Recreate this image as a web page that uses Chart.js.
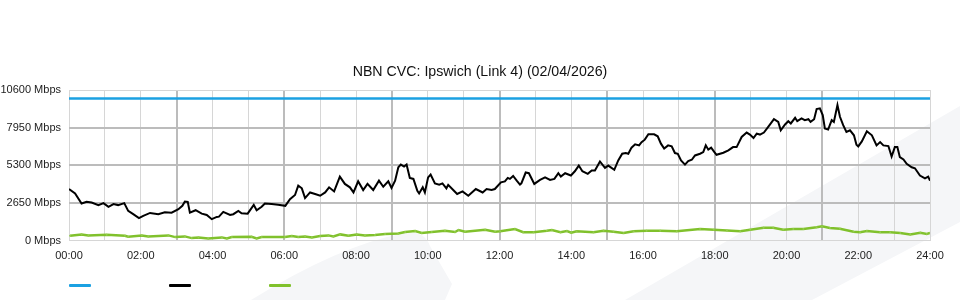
<!DOCTYPE html>
<html>
<head>
<meta charset="utf-8">
<script src="https://cdn.jsdelivr.net/npm/chart.js@4.4.1/dist/chart.umd.min.js"></script>
<style>
  html, body { margin:0; padding:0; background:#fff; }
  #wrap { position:relative; width:960px; height:300px; }
  .key { position:absolute; top:284px; width:22px; height:3px; border-radius:1px; }
</style>
</head>
<body>
<div id="wrap">
  <canvas id="c" width="960" height="300"></canvas>
  <div class="key" style="left:69px;background:#1ba1e2"></div>
  <div class="key" style="left:169px;background:#000"></div>
  <div class="key" style="left:269px;background:#80c12c"></div>
</div>
<script>
// ── data (hours since midnight, Mbps) ─────────────────────────────────────────
const TITLE = "NBN CVC: Ipswich (Link 4) (02/04/2026)";
const Y_TICKS = [0, 2650, 5300, 7950, 10600];

const capTimes = [0, 24];
const capVals  = [10000, 10000];

const dlTimes = [
  0.00,0.17,0.35,0.49,0.63,0.82,0.96,1.10,1.24,1.37,1.54,1.65,1.79,1.95,2.07,2.26,2.49,2.67,2.86,3.05,
  3.16,3.23,3.31,3.37,3.53,3.70,3.84,3.98,4.12,4.18,4.30,4.49,4.58,4.72,4.81,4.98,5.15,5.23,5.37,5.46,
  5.65,5.83,6.03,6.16,6.30,6.39,6.49,6.58,6.72,6.86,7.00,7.14,7.25,7.39,7.55,7.69,7.83,7.93,8.06,8.20,
  8.32,8.48,8.64,8.76,8.90,8.99,9.09,9.18,9.25,9.34,9.41,9.50,9.60,9.71,9.76,9.86,9.92,10.01,10.08,10.20,
  10.32,10.41,10.52,10.57,10.71,10.82,10.97,11.13,11.34,11.53,11.64,11.78,11.87,12.04,12.15,12.23,12.29,12.38,12.48,12.57,
  12.61,12.73,12.82,12.97,13.13,13.27,13.41,13.53,13.64,13.71,13.83,13.99,14.10,14.21,14.31,14.46,14.57,14.66,14.80,14.94,
  15.03,15.20,15.31,15.42,15.52,15.59,15.68,15.78,15.89,15.96,16.05,16.15,16.31,16.41,16.50,16.59,16.70,16.80,16.89,16.97,
  17.06,17.17,17.26,17.36,17.45,17.59,17.68,17.75,17.82,17.90,17.99,18.05,18.24,18.38,18.51,18.61,18.75,18.89,18.98,19.08,
  19.17,19.26,19.37,19.49,19.65,19.77,19.84,19.96,20.05,20.12,20.24,20.30,20.42,20.51,20.61,20.67,20.77,20.84,20.93,21.01,
  21.07,21.16,21.26,21.32,21.42,21.49,21.58,21.67,21.77,21.88,21.95,22.00,22.10,22.24,22.38,22.51,22.61,22.70,22.84,22.93,
  23.02,23.09,23.16,23.26,23.35,23.49,23.58,23.72,23.86,23.95,24.00
];
const dlVals = [
  3640,3330,2620,2740,2690,2510,2650,2390,2580,2510,2650,2100,1870,1590,1750,1960,1870,2010,1980,2220,
  2460,2760,2740,1980,2150,1910,1820,1520,1680,1700,2030,1820,1870,2100,1940,1910,2530,2150,2390,2620,
  2580,2530,2460,2930,3220,3880,3690,3000,3400,3290,3170,3400,3760,3470,4510,4000,3760,3400,4180,3570,
  4000,3570,4230,3800,4180,3710,4230,5170,5360,5220,5360,4420,4350,3520,3330,3760,3400,4460,4660,4040,
  3950,4040,3690,3930,3570,3290,3470,3170,3640,3400,3640,3570,3640,4110,4180,4420,4350,4560,4230,3950,
  4040,4800,4750,4000,4280,4460,4280,4350,4750,4510,4750,4590,4890,5290,4890,4710,4940,4940,5580,5130,
  5290,4990,5650,6120,6170,6120,6550,6780,6710,6940,7110,7490,7490,7350,6830,6480,6710,6640,6170,6120,
  5650,5360,5600,5700,6000,6120,6240,6710,6410,6550,6240,6050,6190,6360,6590,6590,7300,7610,7470,7230,
  7540,7470,7610,8010,8550,8360,7770,8180,8410,8250,8650,8410,8600,8480,8550,8360,8550,9260,9310,8840,
  7890,7820,8480,8360,9550,8720,8130,7650,7770,7420,6760,6640,6990,7700,7420,6710,6940,6710,6660,5930,
  6590,6590,5880,5720,5410,5170,5100,4590,4390,4510,4230
];

const ulTimes = [
  0.03,0.35,0.54,1.05,1.56,1.65,2.03,2.21,2.77,2.96,3.23,3.42,3.61,3.88,4.26,4.40,4.54,5.09,5.23,5.37,
  6.02,6.21,6.39,6.58,6.77,7.00,7.23,7.37,7.56,7.79,8.02,8.25,8.53,8.81,9.18,9.37,9.65,9.83,10.11,10.48,
  10.76,10.86,11.04,11.60,11.88,12.02,12.43,12.66,12.95,13.32,13.46,13.70,13.88,14.00,14.15,14.62,14.90,15.18,15.46,15.74,
  16.10,16.48,16.94,17.59,17.97,18.34,18.71,18.99,19.36,19.63,19.91,20.19,20.47,20.84,20.99,21.21,21.49,21.87,22.05,22.24,
  22.61,22.89,23.17,23.45,23.73,23.91,24.00
];
const ulVals = [
  350,450,380,430,350,280,380,310,380,260,310,190,240,170,240,170,260,280,170,260,
  260,330,260,310,240,330,380,310,450,350,450,380,400,480,520,620,690,550,620,710,
  620,760,640,780,640,670,830,600,600,710,760,600,690,570,670,600,710,640,550,670,
  710,710,670,830,780,730,670,780,920,920,780,830,830,950,1020,900,850,640,600,690,
  600,600,550,450,570,480,550
];

const pts = (t, v) => t.map((x, i) => ({ x, y: v[i] }));
const hh = h => String(h).padStart(2, "0") + ":00";
const major = v => v % 3 === 0 && v % 24 !== 0;

// faint background swoosh behind everything
const watermark = {
  id: "watermark",
  beforeDraw(chart) {
    const c = chart.ctx;
    c.save();
    c.fillStyle = "#f5f6f8";
    c.beginPath();
    c.moveTo(251, 300);
    c.quadraticCurveTo(340, 245, 405, 233);
    c.quadraticCurveTo(424, 230, 430, 246);
    c.lineTo(452, 284);
    c.lineTo(445, 300);
    c.closePath();
    c.fill();
    c.beginPath();
    c.moveTo(625, 300);
    c.lineTo(960, 106);
    c.lineTo(960, 222);
    c.lineTo(812, 300);
    c.closePath();
    c.fill();
    c.restore();
  }
};

Chart.defaults.font.family = "'Liberation Sans', Arial, sans-serif";
Chart.defaults.color = "#222";

new Chart(document.getElementById("c"), {
  type: "line",
  data: {
    datasets: [
      { data: pts(capTimes, capVals), borderColor: "#1ba1e2", borderWidth: 2.5, pointRadius: 0 },
      { data: pts(dlTimes, dlVals), borderColor: "#000", borderWidth: 2, pointRadius: 0 },
      { data: pts(ulTimes, ulVals), borderColor: "#80c12c", borderWidth: 2.5, pointRadius: 1, pointBackgroundColor: "#94cc4e", pointBorderWidth: 0 },
    ],
  },
  options: {
    responsive: false, animation: false,
    layout: { padding: { left: 0, right: 0, bottom: 28 } },
    plugins: {
      legend: { display: false },
      tooltip: { enabled: false },
      title: { display: true, text: TITLE, color: "#111", font: { size: 14.2, weight: "normal" }, padding: { top: 64, bottom: 9 } },
    },
    scales: {
      x: {
        type: "linear", min: 0, max: 24,
        border: { display: false },
        grid: {
          drawTicks: false,
          color: ctx => ctx.tick && major(ctx.tick.value) ? "#bcbcbc" : "#d6d6d6",
          lineWidth: ctx => ctx.tick && major(ctx.tick.value) ? 2 : 1,
        },
        ticks: {
          stepSize: 1, autoSkip: false, maxRotation: 0, padding: 9, font: { size: 11 },
          callback: v => v % 2 === 0 ? hh(v) : "",
        },
      },
      y: {
        min: 0, max: 10600,
        afterBuildTicks: s => { s.ticks = Y_TICKS.map(value => ({ value })); },
        afterFit: s => { s.width = 69; },
        border: { display: false },
        grid: {
          drawTicks: false,
          color: ctx => ctx.tick && ctx.tick.value > 0 && ctx.tick.value < 10600 ? "#bcbcbc" : "#d6d6d6",
          lineWidth: ctx => ctx.tick && ctx.tick.value > 0 && ctx.tick.value < 10600 ? 2 : 1,
        },
        ticks: { padding: 8, font: { size: 11 }, callback: v => v + " Mbps" },
      },
      // empty right gutter so the plot stops at 24:00 while the title centres on the page
      yr: {
        position: "right", min: 0, max: 10600,
        afterFit: s => { s.width = 30; },
        border: { display: false },
        grid: { display: false, drawOnChartArea: false },
        ticks: { display: false },
      },
    },
  },
  plugins: [watermark],
});
</script>
</body>
</html>
